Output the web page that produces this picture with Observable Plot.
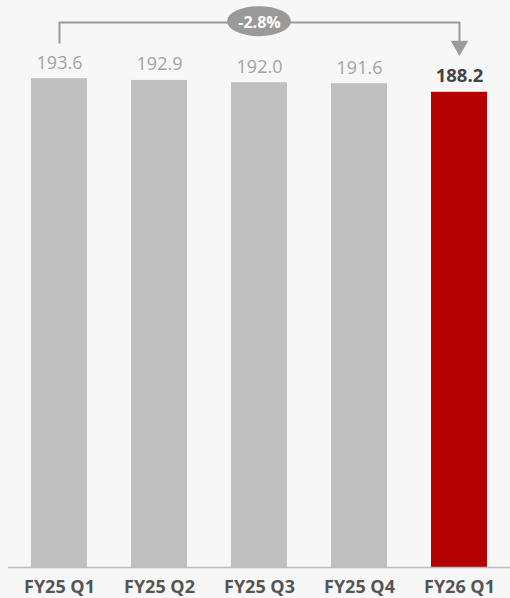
<!DOCTYPE html>
<html>
<head>
<meta charset="utf-8">
<script src="https://cdn.jsdelivr.net/npm/d3@7"></script>
<script src="https://cdn.jsdelivr.net/npm/@observablehq/plot@0.6"></script>
<style>
  html, body { margin: 0; padding: 0; background: #f7f7f7; }
  #chart { width: 510px; height: 598px; }
</style>
</head>
<body>
<div id="chart"></div>
<script>
const quarters = ["FY25 Q1", "FY25 Q2", "FY25 Q3", "FY25 Q4", "FY26 Q1"];
const values = [193.6, 192.9, 192.0, 191.6, 188.2];
const changeLabel = "-2.8%";

const data = quarters.map((q, i) => ({q, v: values[i], last: i === quarters.length - 1}));
const first = quarters[0], last = quarters[quarters.length - 1];
const mid = quarters[Math.floor(quarters.length / 2)];

// annotation levels (in y units)
const bracketTop = 215.8, bracketLeftEnd = 207.8, bracketRightEnd = 208.6, arrowAt = 206.6;
const bubbleLow = 210.2, bubbleHigh = 222.1;
const bracket = [
  {q: first, y: bracketLeftEnd},
  {q: first, y: bracketTop},
  {q: last, y: bracketTop},
  {q: last, y: bracketRightEnd}
];

const chart = Plot.plot({
  width: 510,
  height: 598,
  marginLeft: 8,
  marginRight: 0,
  marginTop: 62,
  marginBottom: 31,
  style: {fontFamily: "Open Sans", background: "#f7f7f7", overflow: "visible"},
  x: {domain: quarters, paddingInner: 0.44, paddingOuter: 0.21, label: null},
  y: {domain: [0, 200], axis: null},
  marks: [
    Plot.barY(data, {x: "q", y: "v", fill: d => d.last ? "#b40000" : "#c0c0c0"}),
    Plot.ruleY([0], {stroke: "#bdbdbd", strokeWidth: 1.5}),
    Plot.text(data.filter(d => !d.last), {x: "q", y: "v", text: d => d.v.toFixed(1), lineAnchor: "bottom", dy: -10, fontSize: 18, fill: "#a3a3a3"}),
    Plot.text(data.filter(d => d.last), {x: "q", y: "v", text: d => d.v.toFixed(1), lineAnchor: "bottom", dy: -10, fontSize: 18.5, fontWeight: "bold", fill: "#444444"}),
    Plot.line(bracket, {x: "q", y: "y", stroke: "#9a9a9a", strokeWidth: 2}),
    Plot.dot([{q: last, y: arrowAt}], {x: "q", y: "y", symbol: "triangle", rotate: 180, r: 6.5, fill: "#9a9a9a", stroke: "none"}),
    Plot.barY([{q: mid}], {x: "q", y1: bubbleLow, y2: bubbleHigh, insetLeft: -4, insetRight: -4, rx: 32, ry: 15, fill: "#9a9a9a"}),
    Plot.text([{q: mid}], {x: "q", y: bracketTop, text: () => changeLabel, fontSize: 16, fontWeight: "bold", fill: "white"}),
    Plot.axisX({tickSize: 0, tickPadding: 13, fontSize: 18, fontWeight: "bold", fill: "#555555", label: null})
  ]
});
document.getElementById("chart").append(chart);
</script>
</body>
</html>
